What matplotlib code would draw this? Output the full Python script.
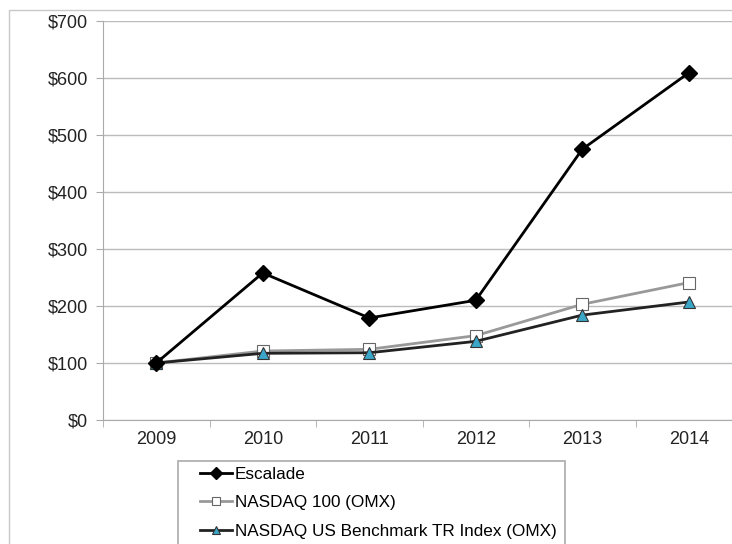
import matplotlib.pyplot as plt
from matplotlib.patches import Rectangle
from matplotlib.ticker import FixedLocator

plt.rcParams['font.family'] = ['Liberation Sans', 'DejaVu Sans']

years = ['2009', '2010', '2011', '2012', '2013', '2014']
escalade = [100, 258, 179, 210, 475, 609]
nasdaq100 = [100, 121, 124, 148, 203, 241]
benchmark = [100, 117, 118, 138, 184, 207]

W, H = 732, 544
fig = plt.figure(figsize=(W / 100, H / 100), dpi=100)
# outer chart border
fig.patches.append(Rectangle((9 / W, -0.1), 1.0, 1 - 10 / H + 0.1, transform=fig.transFigure,
                             fill=False, edgecolor='#c8c8c8', linewidth=1))
# legend box
fig.patches.append(Rectangle((178 / W, -0.1), (565 - 178) / W, 1 - 461 / H + 0.1, transform=fig.transFigure,
                             fill=False, edgecolor='#aaaaaa', linewidth=1.2))

ax = fig.add_axes([103 / W, 1 - 420 / H, 639 / W, 399 / H])
x = list(range(len(years)))

ax.plot(x, escalade, color='black', lw=2, marker='D', ms=8, mfc='black', mec='black', label='Escalade', zorder=5)
ax.plot(x, nasdaq100, color='#999999', lw=2, marker='s', ms=8, mfc='white', mec='#666666', mew=0.8,
        label='NASDAQ 100 (OMX)', zorder=4)
ax.plot(x, benchmark, color='#222222', lw=2, marker='^', ms=8, mfc='#3aa6c8', mec='#333333', mew=0.8,
        label='NASDAQ US Benchmark TR Index (OMX)', zorder=4)

ax.set_xlim(-0.5, 5.5)
ax.set_ylim(0, 700)
ax.set_xticks(x)
ax.set_xticklabels(years)
ax.xaxis.set_minor_locator(FixedLocator([i + 0.5 for i in range(-1, 6)]))
ax.tick_params(axis='x', which='major', length=0, pad=8, labelsize=13, colors='#222222')
ax.tick_params(axis='x', which='minor', length=5, color='#aaaaaa')
ax.set_yticks(range(0, 701, 100))
ax.set_yticklabels([f'${v}' for v in range(0, 701, 100)])
ax.tick_params(axis='y', length=5, pad=6, color='#aaaaaa', labelsize=13, labelcolor='#222222')
ax.grid(axis='y', color='#bbbbbb', lw=1)
ax.set_axisbelow(True)
for s in ['top', 'right']:
    ax.spines[s].set_visible(False)
for s in ['left', 'bottom']:
    ax.spines[s].set_color('#aaaaaa')

fig.legend(loc='upper left', bbox_to_anchor=(200 / W, 1 - 467 / H), frameon=False,
           fontsize=12.3, handlelength=1.87, handletextpad=0.18,
           labelspacing=0.78, borderpad=0, borderaxespad=0, markerscale=0.8)

plt.savefig('out.png', dpi=100)
plt.close()
